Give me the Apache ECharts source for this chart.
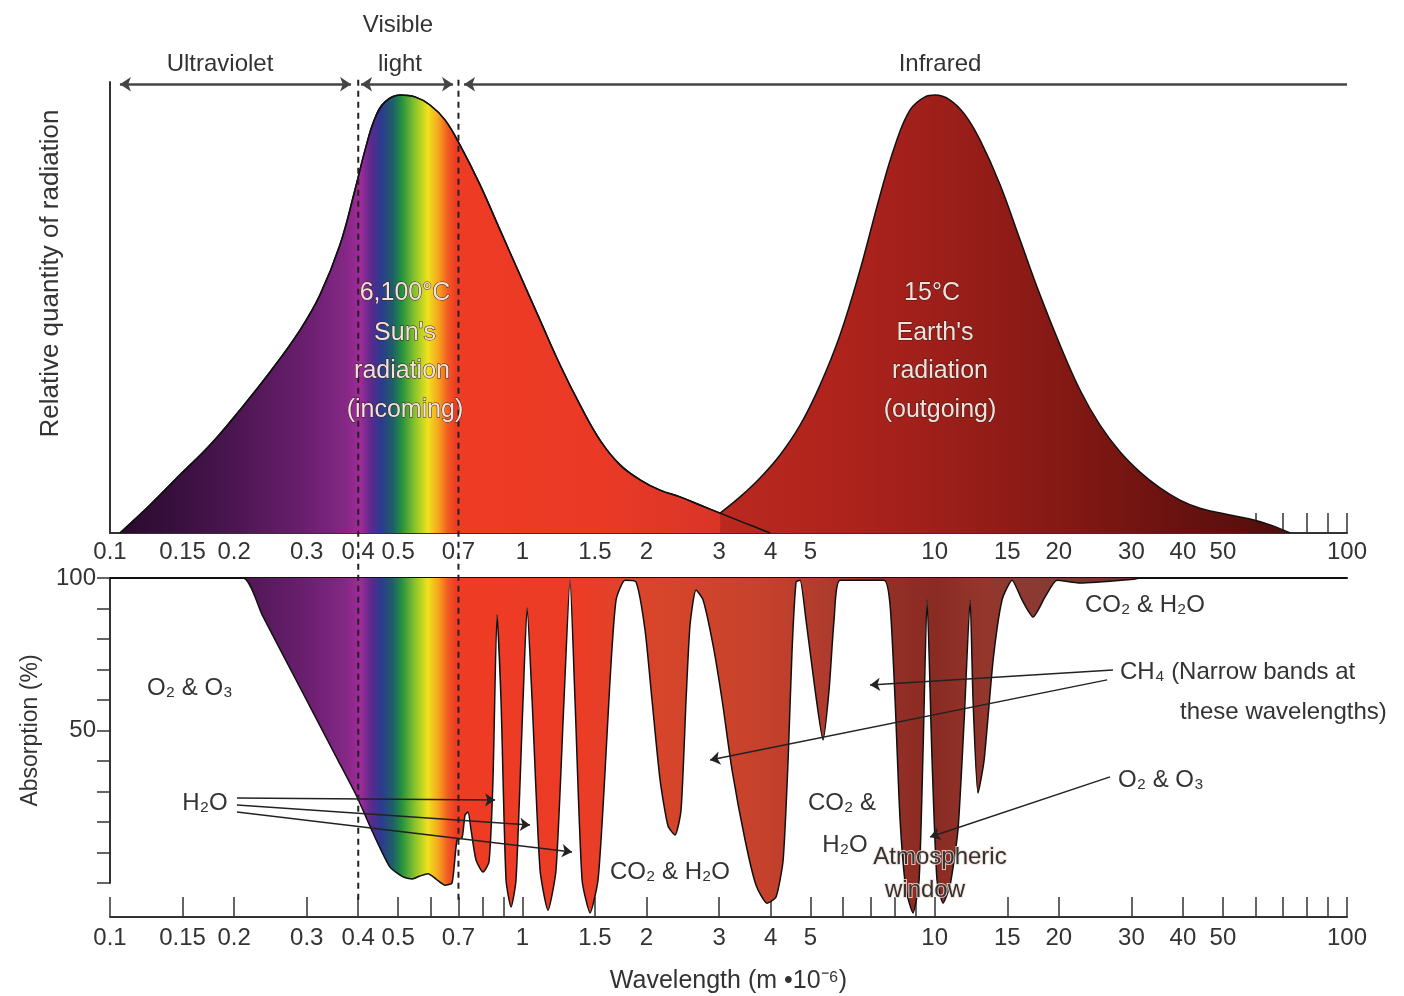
<!DOCTYPE html>
<html>
<head>
<meta charset="utf-8">
<script src="https://cdn.jsdelivr.net/npm/echarts@6/dist/echarts.min.js"></script>
<style>
  html, body { margin: 0; padding: 0; background: #fff; }
  #chart { width: 1404px; height: 996px; }
</style>
</head>
<body>
<div id="chart"></div>
<script>
// wavelength axis (micrometres), shared by both panels
const tickLabels = ['0.1', '0.15', '0.2', '0.3', '0.4', '0.5', '0.7', '1', '1.5', '2', '3', '4', '5', '10', '15', '20', '30', '40', '50', '100']
const minorTicks = [0.6, 0.8, 0.9, 6, 7, 8, 9, 60, 70, 80, 90]
const bandEdges = [0.4, 0.7]

// top panel: relative quantity of radiation
const sunWave = [0.1057, 0.125, 0.1478, 0.1748, 0.2066, 0.2444, 0.2889, 0.323, 0.3612, 0.3928, 0.4154, 0.4392, 0.4645, 0.505, 0.5492, 0.5971, 0.6493, 0.7063, 0.7898, 0.8829, 0.9872, 1.104, 1.234, 1.38, 1.543, 1.726, 1.93, 2.158, 2.413, 2.698, 3.017, 3.468, 3.99]
const sunValue = [0, 6.2, 12.9, 19.5, 27.3, 35.7, 45.0, 52.8, 63.9, 76.1, 84.9, 92.0, 95.6, 97.1, 96.7, 94.9, 91.6, 86.0, 77.2, 67.2, 57.2, 47.2, 37.3, 28.4, 20.6, 15.1, 11.8, 9.5, 8.0, 6.2, 4.4, 2.2, 0]
const earthWave = [3.017, 3.373, 3.771, 4.217, 4.716, 5.272, 5.895, 6.592, 7.372, 8.017, 8.717, 9.478, 10.02, 10.9, 11.85, 12.89, 14.41, 16.11, 18.01, 20.14, 22.52, 25.18, 28.15, 31.48, 35.19, 39.35, 44.0, 50.6, 58.2, 65.1, 72.8]
const earthValue = [4.4, 8.0, 12.2, 17.3, 23.9, 32.8, 43.9, 58.3, 74.9, 86.0, 93.8, 96.7, 97.1, 96.0, 92.7, 87.1, 77.2, 65.0, 52.8, 41.7, 31.7, 23.9, 18.0, 13.5, 10.0, 7.3, 5.5, 4.2, 3.1, 1.8, 0]

// bottom panel: absorption (%)
const absWave = [0.1, 0.2102, 0.2337, 0.2889, 0.3573, 0.3973, 0.4344, 0.4776, 0.5136, 0.540, 0.5649, 0.5907, 0.6176, 0.6493, 0.6753, 0.6944, 0.7142, 0.7261, 0.7384, 0.751, 0.7722, 0.803, 0.8301, 0.8488, 0.8683, 0.8877, 0.913, 0.9389, 0.9654, 1.004, 1.027, 1.056, 1.104, 1.154, 1.207, 1.262, 1.305, 1.342, 1.396, 1.46, 1.526, 1.578, 1.632, 1.688, 1.775, 1.887, 1.984, 2.063, 2.158, 2.256, 2.346, 2.426, 2.495, 2.551, 2.638, 2.744, 2.901, 3.051, 3.226, 3.469, 3.688, 3.923, 4.124, 4.29, 4.411, 4.51, 4.612, 4.716, 4.875, 5.128, 5.362, 5.545, 5.702, 5.897, 7.54, 7.796, 8.017, 8.244, 8.524, 8.862, 9.167, 9.373, 9.585, 9.856, 10.13, 10.48, 10.9, 11.39, 11.79, 12.19, 12.39, 12.74, 13.18, 13.86, 14.57, 15.41, 16.29, 17.33, 18.53, 19.81, 22.5, 30.28, 31.48, 100]
const absValue = [100, 100, 88.0, 64.1, 40.2, 28.2, 16.4, 5.2, 2.0, 1.3, 2.3, 3.0, 1.3, -0.7, 0, 14.1, 14.8, 22.3, 23.3, 17.4, 7.5, 3.6, 6.9, 33.8, 87.9, 60, 1, -7.9, 1, 60, 90.2, 60, 4.3, -8.9, 4.3, 60, 99.3, 60, 1, -9.8, 1, 30.5, 66.6, 92.8, 99.3, 98.7, 83, 60, 33.8, 18.7, 15.7, 23.9, 60, 84.6, 96.1, 92.8, 78, 60, 37, 14.1, -0.7, -6.6, -4.6, 7.5, 40.3, 76.4, 98.7, 99.3, 86.2, 63.3, 46.9, 63.3, 86.2, 99.3, 99.3, 91.1, 60, 20.7, -2.3, -9.8, 1, 43.6, 92.8, 40.3, 1, -6.6, -0.7, 17.4, 53.4, 92.8, 60, 29.5, 40.3, 73.1, 92.8, 99.3, 92.8, 87.2, 93.8, 99.3, 98.4, 99.6, 100, 100]

// arrows: [fromWave, fromValue, toWave, toValue]
const rangeArrows = [
  [0.1057, 99.5, 0.3843, 99.5, 'both'],
  [0.4064, 99.5, 0.679, 99.5, 'both'],
  [0.7222, 99.5, 100, 99.5, 'start']
]
const pointerArrows = [
  [0.2032, 27.9, 0.8587, 27.2],
  [0.2032, 25.6, 1.044, 19.0],
  [0.2032, 23.3, 1.32, 10.2],
  [27.08, 69.8, 6.971, 64.9],
  [26.19, 66.6, 2.853, 40.3],
  [26.63, 34.8, 9.745, 15.1]
]

// colour along the wavelength axis
const spectrum = [
  [0.405, '#a02a98'], [0.43, '#5a2a8c'], [0.455, '#2c3a90'], [0.485, '#1e5f6a'], [0.51, '#24913e'],
  [0.55, '#8cc42c'], [0.59, '#f0e21e'], [0.625, '#f6a61f'], [0.66, '#f15a22'], [0.69, '#ee3b24']
]
const sunStops = [[0.1, '#2a0a2c'], [0.15, '#3a1040'], [0.2, '#4b1651'], [0.3, '#6b1f6f'], [0.37, '#832785']]
  .concat(spectrum, [[1.5, '#ea3a26'], [3, '#da3528'], [4, '#cf3127']])
const earthStops = [[3, '#ba2920'], [6, '#ae231c'], [10, '#9e1f1a'], [20, '#851914'], [40, '#681210'], [73, '#4f0e0c']]
const absStops = [[0.1, '#3a1040'], [0.2, '#4a1650'], [0.3, '#6b1f6f'], [0.37, '#832785']]
  .concat(spectrum, [[1.4, '#ec3c26'], [1.8, '#dd4429'], [2.5, '#d2452b'], [4, '#c4412c'], [5.5, '#ae3b2d'],
    [7.5, '#952f26'], [10, '#8a2b23'], [13, '#94362c'], [18, '#8a3a33'], [40, '#6a2822'], [100, '#6a2822']])

const TEXT = '#333'
const FONT = 'Liberation Sans, Arial, sans-serif'

const annotations = [
  { text: 'Ultraviolet', x: 220, y: 64 },
  { text: 'Visible', x: 398, y: 25 },
  { text: 'light', x: 400, y: 64 },
  { text: 'Infrared', x: 940, y: 64 },
  { text: '6,100°C', x: 405, y: 293, glow: true },
  { text: 'Sun\'s', x: 405, y: 333, glow: true },
  { text: 'radiation', x: 402, y: 371, glow: true },
  { text: '(incoming)', x: 405, y: 410, glow: true },
  { text: '15°C', x: 932, y: 293, glow: true },
  { text: 'Earth\'s', x: 935, y: 333, glow: true },
  { text: 'radiation', x: 940, y: 371, glow: true },
  { text: '(outgoing)', x: 940, y: 410, glow: true },
  { text: 'O₂ & O₃', x: 190, y: 688 },
  { text: 'H₂O', x: 205, y: 803 },
  { text: 'CO₂ & H₂O', x: 670, y: 872 },
  { text: 'CO₂ &', x: 842, y: 803 },
  { text: 'H₂O', x: 845, y: 845 },
  { text: 'Atmospheric', x: 940, y: 857, halo: true },
  { text: 'window', x: 925, y: 890, halo: true },
  { text: 'CO₂ & H₂O', x: 1145, y: 605 },
  { text: 'CH₄ (Narrow bands at', x: 1120, y: 672, align: 'left' },
  { text: 'these wavelengths)', x: 1180, y: 712, align: 'left' },
  { text: 'O₂ & O₃', x: 1118, y: 780, align: 'left' }
]

const log = w => Math.log10(w)
const pairs = (xs, ys) => xs.map((w, i) => [log(w), ys[i]])

function gradientFor(waves, stops) {
  const lo = log(waves[0])
  const hi = log(waves[waves.length - 1])
  return new echarts.graphic.LinearGradient(0, 0, 1, 0, stops.map(([w, color]) => ({
    offset: Math.min(1, Math.max(0, (log(w) - lo) / (hi - lo))),
    color
  })))
}

const labelMap = {}
tickLabels.forEach(t => { labelMap[log(+t).toFixed(4)] = t })
const labelValues = tickLabels.map(t => log(+t))
const tickValues = labelValues.concat(minorTicks.map(log))

function wavelengthAxis(gridIndex, offset, margin) {
  return {
    type: 'value',
    gridIndex,
    min: -1,
    max: 2,
    offset,
    axisLine: { show: true, onZero: false, lineStyle: { color: '#333', width: 2 } },
    axisTick: { show: true, inside: true, length: 20, customValues: tickValues, lineStyle: { color: '#333', width: 1.5 } },
    axisLabel: {
      customValues: labelValues,
      formatter: v => labelMap[v.toFixed(4)] || '',
      margin,
      fontSize: 24,
      color: TEXT,
      fontFamily: FONT
    },
    splitLine: { show: false }
  }
}

const arrowLine = { color: '#222', width: 1.5, type: 'solid' }

const option = {
  animation: false,
  backgroundColor: '#fff',
  grid: [
    { left: 110, right: 57, top: 82, height: 451 },
    { left: 110, right: 57, top: 578, height: 305 }
  ],
  xAxis: [
    wavelengthAxis(0, 0, 7),
    Object.assign(wavelengthAxis(1, 34, 9), {
      name: 'Wavelength (m •10⁻⁶)',
      nameLocation: 'middle',
      nameGap: 52,
      nameTextStyle: { fontSize: 25, color: TEXT, fontFamily: FONT }
    }),
    {
      type: 'value', gridIndex: 1, position: 'top', min: -1, max: 2,
      axisLine: { show: true, onZero: false, lineStyle: { color: '#111', width: 2 } },
      axisTick: { show: false }, axisLabel: { show: false }, splitLine: { show: false }
    }
  ],
  yAxis: [
    {
      type: 'value', gridIndex: 0, min: 0, max: 100,
      name: 'Relative quantity of radiation',
      nameLocation: 'middle',
      nameGap: 46,
      nameTextStyle: { fontSize: 26, color: TEXT, fontFamily: FONT, padding: [0, 0, 0, 68] },
      axisLine: { show: true, onZero: false, lineStyle: { color: '#333', width: 2 } },
      axisTick: { show: false }, axisLabel: { show: false }, splitLine: { show: false }
    },
    {
      type: 'value', gridIndex: 1, min: 0, max: 100, interval: 10,
      name: 'Absorption (%)',
      nameLocation: 'middle',
      nameGap: 68,
      nameTextStyle: { fontSize: 23, color: TEXT, fontFamily: FONT },
      axisLine: { show: true, onZero: false, lineStyle: { color: '#333', width: 2 } },
      axisTick: { show: true, inside: false, length: 13, lineStyle: { color: '#333', width: 1.5 } },
      axisLabel: {
        formatter: v => (v === 50 || v === 100 ? String(v) : ''),
        margin: 14, fontSize: 24, color: TEXT, fontFamily: FONT
      },
      splitLine: { show: false }
    }
  ],
  series: [
    {
      type: 'line', name: 'Sun', xAxisIndex: 0, yAxisIndex: 0,
      data: pairs(sunWave, sunValue), smooth: 0.4, showSymbol: false, z: 2,
      lineStyle: { color: '#111', width: 1.5 },
      areaStyle: { color: gradientFor(sunWave, sunStops), opacity: 1 }
    },
    {
      type: 'line', name: 'Earth', xAxisIndex: 0, yAxisIndex: 0,
      data: pairs(earthWave, earthValue), smooth: 0.4, showSymbol: false, z: 3,
      lineStyle: { color: '#111', width: 1.5 },
      areaStyle: { color: gradientFor(earthWave, earthStops), opacity: 1 }
    },
    {
      type: 'line', name: 'Sun outline', xAxisIndex: 0, yAxisIndex: 0,
      data: pairs(sunWave, sunValue), smooth: 0.4, showSymbol: false, z: 4,
      lineStyle: { color: '#111', width: 1.5 },
      markLine: {
        silent: true,
        symbolSize: 11,
        label: { show: false },
        lineStyle: { color: '#444', width: 2.5, type: 'solid' },
        data: rangeArrows.map(([x1, y1, x2, y2, ends]) => [
          { coord: [log(x1), y1], symbol: 'arrow' },
          { coord: [log(x2), y2], symbol: ends === 'both' ? 'arrow' : 'none' }
        ])
      }
    },
    {
      type: 'line', name: 'Absorption', xAxisIndex: 1, yAxisIndex: 1,
      data: pairs(absWave, absValue), smooth: 0.2, showSymbol: false, clip: false, z: 2,
      lineStyle: { color: '#111', width: 1.5 },
      areaStyle: { origin: 'end', color: gradientFor(absWave, absStops), opacity: 1 },
      markLine: {
        silent: true,
        symbol: ['none', 'arrow'],
        symbolSize: 10,
        label: { show: false },
        lineStyle: arrowLine,
        data: pointerArrows.map(([x1, y1, x2, y2]) => [
          { coord: [log(x1), y1] },
          { coord: [log(x2), y2] }
        ])
      }
    }
  ]
}

const chart = echarts.init(document.getElementById('chart'))
chart.setOption(option)

// dashed band edges run through both panels
const topY = chart.convertToPixel({ yAxisIndex: 0 }, 100.5)
const bottomY = chart.convertToPixel({ yAxisIndex: 1 }, -6)
const guides = bandEdges.map(w => {
  const x = chart.convertToPixel({ xAxisIndex: 0 }, log(w))
  return {
    type: 'line', z: 20, silent: true,
    shape: { x1: x, y1: topY, x2: x, y2: bottomY },
    style: { stroke: '#222', lineWidth: 2, lineDash: [6, 5] }
  }
})

const labels = annotations.map(a => ({
  type: 'text', z: 30, silent: true,
  x: a.x, y: a.y,
  style: {
    text: a.text,
    font: (a.glow ? '25px ' : '24px ') + FONT,
    align: a.align || 'center',
    verticalAlign: 'middle',
    fill: a.glow ? '#f3e2da' : TEXT,
    stroke: a.glow ? '#3a1c1c' : (a.halo ? 'rgba(240,220,210,0.85)' : null),
    lineWidth: a.glow ? 1 : (a.halo ? 2 : 0)
  }
}))

chart.setOption({ graphic: guides.concat(labels) })
</script>
</body>
</html>
